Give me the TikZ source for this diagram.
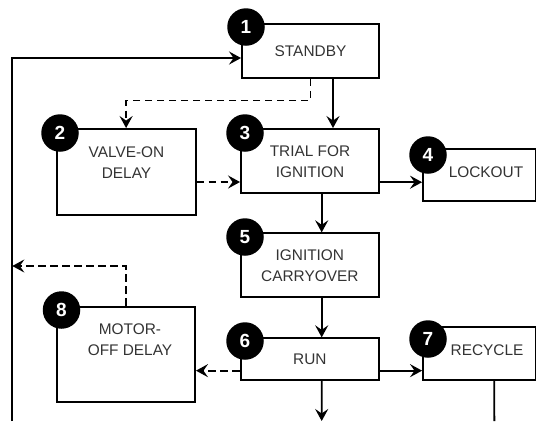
\documentclass[tikz,border=0pt]{standalone}
\usepackage{fontspec}
\setmainfont{Liberation Sans}
\usetikzlibrary{arrows.meta}
\definecolor{txtgray}{HTML}{333333}

\begin{document}
\begin{tikzpicture}[x=1pt, y=-1pt,
  box/.style = {draw, line width=1.9pt, inner sep=0pt, text=txtgray, align=center, font=\fontsize{15.4}{21}\selectfont},
  lbl/.style = {text=txtgray, align=center, inner sep=0pt, font=\fontsize{15.4}{21}\selectfont},
  num/.style = {circle, fill=black, text=white, inner sep=0pt, minimum size=37.5pt, font=\fontsize{19}{19}\selectfont\bfseries},
  arr/.style = {line width=1.9pt, -{Stealth[length=12pt, width=13pt, inset=4.5pt]}},
  link/.style = {line width=1.9pt},
  dsh/.style = {dash pattern=on 7.5pt off 4.5pt}]
\useasboundingbox (0,0) rectangle (538,421);
\node[box, minimum width=137pt, minimum height=54pt] (standby) at (310.5, 51) {STANDBY};
\node[box, minimum width=139pt, minimum height=86pt] (valve) at (126.1, 172) {};
\node[lbl] (valvetxt) at (126.5, 163) {VALVE-ON\\DELAY};
\node[box, minimum width=138pt, minimum height=64.4pt] (trial) at (310, 161.2) {TRIAL FOR\\IGNITION};
\node[box, minimum width=112.5pt, minimum height=51.4pt] (lockout) at (479.25, 175) {};
\node[lbl] (lockouttxt) at (486, 172) {LOCKOUT};
\node[box, minimum width=138.3pt, minimum height=64pt] (ignition) at (309.85, 265.3) {IGNITION\\CARRYOVER};
\node[box, minimum width=138.3pt, minimum height=41.7pt] (run) at (309.85, 359.15) {RUN};
\node[box, minimum width=112.5pt, minimum height=52.7pt] (recycle) at (479.25, 353.65) {};
\node[lbl] (recycletxt) at (487, 350) {RECYCLE};
\node[box, minimum width=137.7pt, minimum height=95.6pt] (motor) at (126.15, 354.5) {};
\node[lbl] (motortxt) at (130, 340) {MOTOR-\\OFF DELAY};
\node[num] (n1) at (246, 27) {1};
\node[num] (n2) at (60, 133) {2};
\node[num] (n3) at (245, 133) {3};
\node[num] (n4) at (428, 155) {4};
\node[num] (n5) at (245, 237) {5};
\node[num] (n6) at (245, 341) {6};
\node[num] (n7) at (428, 339) {7};
\node[num] (n8) at (61.5, 310) {8};
\coordinate (loopbot) at (12.3, 421);
\coordinate (loopjoin) at (12.3, 266);
\coordinate (runout) at (321.7, 421);
\coordinate (recout) at (494.3, 421);
\draw[arr] (loopbot) |- ([yshift=-7pt]standby.west);
\draw[arr] ([xshift=22.5pt]standby.south) -- ([xshift=22.5pt]standby.south |- trial.north);
\draw[arr, dsh] (standby.south) -- ++(0, 21.5) -| (valve.north);
\draw[arr, dsh] ([yshift=-10pt]valve.east) -- ([yshift=-10pt]valve.east -| trial.west);
\draw[arr] ([yshift=-21pt]trial.east) -- ([yshift=-21pt]trial.east -| lockout.west);
\draw[arr] ([xshift=11.7pt]trial.south) -- ([xshift=11.7pt]trial.south |- ignition.north);
\draw[arr] ([xshift=11.85pt]ignition.south) -- ([xshift=11.85pt]ignition.south |- run.north);
\draw[arr, dsh] ([yshift=-11.5pt]run.west) -- ([yshift=-11.5pt]run.west -| motor.east);
\draw[arr] ([yshift=-11.5pt]run.east) -- ([yshift=-11.5pt]run.east -| recycle.west);
\draw[arr] ([xshift=11.85pt]run.south) -- (runout);
\draw[link] ([xshift=15pt]recycle.south) -- (recout);
\draw[arr, dsh] (motor.north) |- (loopjoin);
\end{tikzpicture}
\end{document}
